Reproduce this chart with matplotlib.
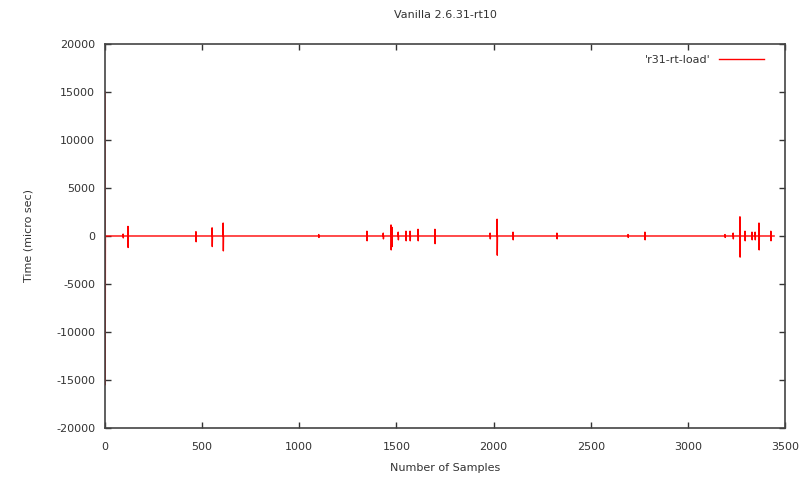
import matplotlib
matplotlib.use("Agg")
import matplotlib.pyplot as plt
import numpy as np

plt.rcParams['axes.unicode_minus'] = False

# number of samples in the run
n_samples = 3445

# first sample jumps (start-up outlier)
start_high = 15000
start_low = -15500

# latency spikes: sample index, peak above 0, dip below 0 (micro sec)
spike_idx = [93, 118, 468, 551, 608, 1100, 1348, 1432, 1472, 1477, 1509, 1549,
             1570, 1611, 1698, 1982, 2018, 2100, 2326, 2692, 2779, 3191, 3233,
             3268, 3294, 3330, 3346, 3366, 3427]
spike_high = [200, 1000, 450, 850, 1350, 150, 500, 300, 1150, 900, 400, 500,
              500, 700, 700, 300, 1750, 400, 300, 150, 400, 150, 300,
              2000, 500, 400, 400, 1350, 500]
spike_low = [-200, -1200, -600, -1100, -1550, -150, -500, -300, -1450, -1100, -400, -500,
             -500, -500, -800, -300, -2000, -400, -300, -150, -400, -150, -300,
             -2200, -500, -400, -400, -1450, -500]

samples = np.arange(n_samples)
values = np.zeros(n_samples)
values[0] = start_high
values[1] = start_low
for i, hi, lo in zip(spike_idx, spike_high, spike_low):
    values[i] = hi
    values[i + 1] = lo

fig = plt.figure(figsize=(8.03, 4.83), dpi=100)
ax = fig.add_axes([0.1308, 0.1139, 0.8468, 0.795])

ax.plot(samples, values, color='#ff0000', linewidth=1, label="'r31-rt-load'")

ax.set_xlim(0, 3500)
ax.set_ylim(-20000, 20000)
ax.set_xticks(range(0, 3501, 500))
ax.set_yticks(range(-20000, 20001, 5000))

txt = '#333333'
ax.tick_params(direction='in', length=4, width=1, top=True, right=True,
               labelsize=8, labelcolor=txt, color='#333333')
ax.tick_params(axis='x', pad=10)
ax.tick_params(axis='y', pad=7)
for s in ax.spines.values():
    s.set_color('#444444')
    s.set_linewidth(1.2)

ax.set_title('Vanilla 2.6.31-rt10', fontsize=8, color=txt, pad=19)
ax.set_xlabel('Number of Samples', fontsize=8, color=txt, labelpad=8)
ax.set_ylabel('Time (micro sec)', fontsize=8, color=txt, labelpad=16)

ax.legend(loc='upper right', bbox_to_anchor=(0.985, 1.0), frameon=False,
          fontsize=8, markerfirst=False, handlelength=4, labelcolor=txt,
          borderaxespad=0.6)

fig.savefig('out.png', dpi=100)
